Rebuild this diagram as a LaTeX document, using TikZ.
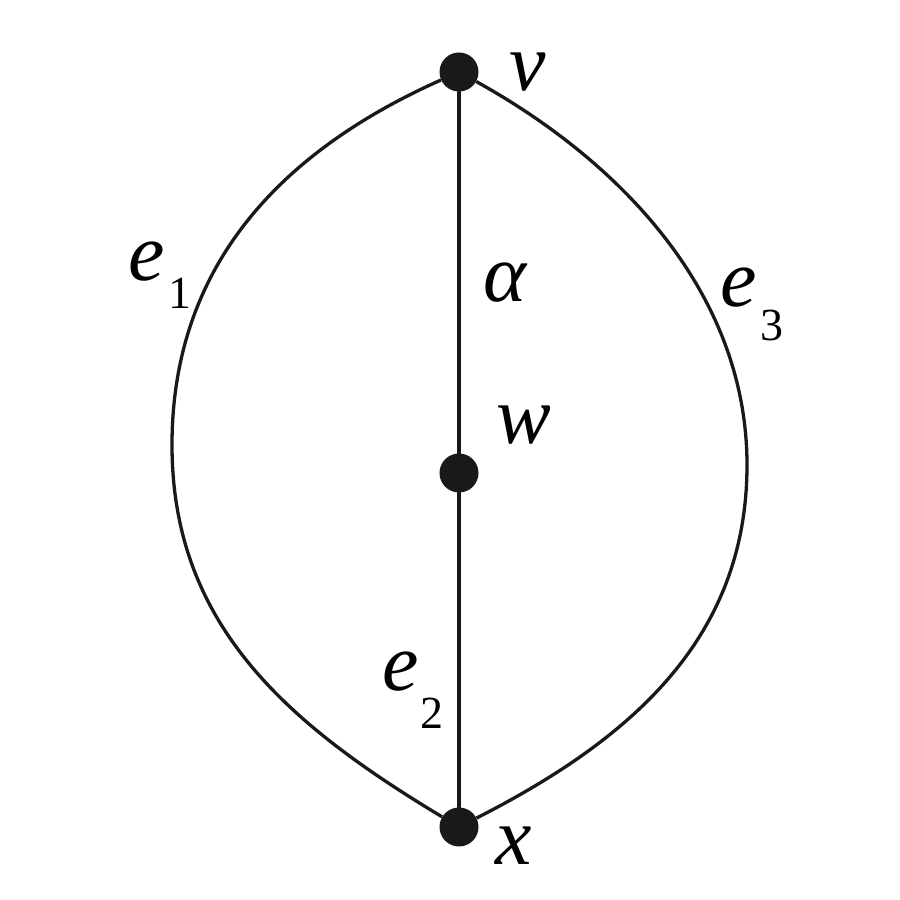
\documentclass[tikz,border=0pt]{standalone}
\usepackage{fontspec}
\setmainfont{Liberation Serif}[ItalicFont={Liberation Serif Italic}]
\begin{document}
\begin{tikzpicture}[x=1pt,y=1pt,
  vertexdot/.style={circle,fill=black!90,inner sep=0pt,minimum size=39pt},
  edgeline/.style={line width=3.3pt,black!90},
  lbl/.style={inner sep=0pt,font=\fontsize{82}{82}\selectfont\itshape},
  sublbl/.style={inner sep=0pt,font=\fontsize{46}{46}\selectfont}]
\useasboundingbox (0,0) rectangle (900,900);
\node[vertexdot] (v) at (459,828) {};
\node[vertexdot] (w) at (459,427) {};
\node[vertexdot] (x) at (459,73) {};
\coordinate (L) at (172,455);
\coordinate (R) at (747,435);
\draw[edgeline] (v.center) -- (x.center);
\draw[edgeline] (v) to[out=-156,in=90] (L) to[out=-90,in=149] (x);
\draw[edgeline] (v) to[out=-29,in=90,looseness=0.92] (R) to[out=-90,in=27] (x);
\node[lbl] (lv) at (528,828) {v};
\node[lbl] (lw) at (524,475) {w};
\node[lbl] (lx) at (514,54) {x};
\node[lbl] (la) at (505,617) {α};
\node[lbl] (le1) at (147,638) {e};
\node[sublbl] (le1s) at (180,607) {1};
\node[lbl] (le3) at (739,612) {e};
\node[sublbl] (le3s) at (772,574) {3};
\node[lbl] (le2) at (401,228) {e};
\node[sublbl] (le2s) at (432,187) {2};
\end{tikzpicture}
\end{document}
